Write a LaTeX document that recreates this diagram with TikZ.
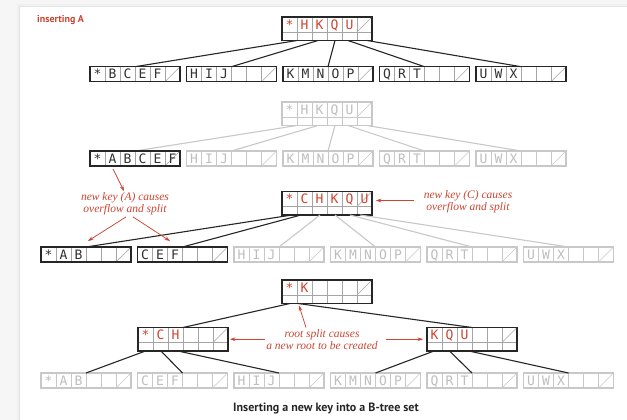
\documentclass[tikz,border=0pt]{standalone}
\usepackage{fontspec}
\setmainfont{Liberation Serif}
\newfontfamily\keyfont{DejaVu Sans Mono}
\newfontfamily\lblfont{PT Sans}
\usetikzlibrary{calc,arrows.meta}
\definecolor{bred}{RGB}{205,68,48}
\definecolor{dk}{RGB}{38,38,38}
\definecolor{dv}{RGB}{165,165,165}
\definecolor{lg}{RGB}{200,200,200}
\definecolor{lt}{RGB}{190,190,190}
\definecolor{ktxt}{RGB}{50,50,50}
\newcommand{\annfont}{\itshape\fontsize{11.5}{12}\selectfont}
% leaf: name, x, y, border, divider, text, keys
\newcommand{\bleaf}[7]{%
  \node[draw=#4, line width=1.1pt, minimum width=90pt, minimum height=15pt,
        inner sep=0pt, outer sep=0pt, anchor=north west] (#1) at (#2,#3) {};
  \foreach \j in {1,...,5}{\draw[#5, line width=0.6pt]
      ($(#1.north west)+(\j*15,0.6)$) -- ($(#1.south west)+(\j*15,-0.6)$);}
  \draw[#5, line width=0.6pt] ($(#1.south east)+(-14,-1)$) -- ($(#1.north east)+(-1,1)$);
  \foreach \k [count=\i from 0] in {#7}{%
    \node[font=\keyfont\fontsize{13}{13}\selectfont, text=#6, anchor=base, inner sep=0pt]
      at ($(#1.north west)+(\i*15+7.5,12.3)$) {\k};}
}
% internal node: name, x, y, border, divider, text, keys
\newcommand{\binner}[7]{%
  \node[draw=#4, line width=1.1pt, minimum width=90pt, minimum height=23.5pt,
        inner sep=0pt, outer sep=0pt, anchor=north west] (#1) at (#2,#3) {};
  \foreach \j in {1,...,5}{\draw[#5, line width=0.6pt]
      ($(#1.north west)+(\j*15,0.6)$) -- ($(#1.south west)+(\j*15,-0.6)$);}
  \draw[#5, line width=0.6pt] ($(#1.north west)+(0.6,15)$) -- ($(#1.north east)+(-0.6,15)$);
  \draw[#5, line width=0.6pt] ($(#1.north east)+(-14,14)$) -- ($(#1.north east)+(-1,1)$);
  \foreach \k [count=\i from 0] in {#7}{%
    \node[font=\keyfont\fontsize{13}{13}\selectfont, text=#6, anchor=base, inner sep=0pt]
      at ($(#1.north west)+(\i*15+7.5,12.3)$) {\k};}
}
\tikzset{
  darklink/.style={draw=dk, line width=1.1pt},
  faintlink/.style={draw=lg, line width=1.1pt},
  redarrow/.style={draw=bred, line width=0.75pt, -{Stealth[length=5.5pt,width=3.8pt]}},
  note/.style={font=\annfont, text=bred, align=center, inner sep=1pt},
}
\begin{document}
\begin{tikzpicture}[x=1pt,y=-1pt]
\useasboundingbox (0,0) rectangle (627,420);
% background panel
\fill[gray!7] (0,0) rectangle (627,420);
\fill[gray!12] (17,4) rectangle (627,420);
\fill[gray!20] (19,6) rectangle (627,420);
\fill[white] (20,7) rectangle (627,420);

\node[font=\lblfont\bfseries\fontsize{10}{10}\selectfont, text=bred, anchor=west, inner sep=0pt] (title) at (37,20) {inserting A};

% ---------- row 1 ----------
\binner{r1}{282}{17}{dk}{dv}{bred}{*,H,K,Q,U}
\bleaf{a1}{90}{66.7}{dk}{dv}{ktxt}{*,B,C,E,F}
\bleaf{a2}{186.5}{66.7}{dk}{dv}{ktxt}{H,I,J}
\bleaf{a3}{283}{66.7}{dk}{dv}{ktxt}{K,M,N,O,P}
\bleaf{a4}{379.5}{66.7}{dk}{dv}{ktxt}{Q,R,T}
\bleaf{a5}{476}{66.7}{dk}{dv}{ktxt}{U,W,X}
\draw[darklink] ($(r1.south west)+(15,0)$) -- (a1.north);
\draw[darklink] ($(r1.south west)+(36,0)$) -- (a2.north);
\draw[darklink] ($(r1.south west)+(53,0)$) -- (a3.north);
\draw[darklink] ($(r1.south west)+(66,0)$) -- (a4.north);
\draw[darklink] ($(r1.south west)+(85,0)$) -- (a5.north);

% ---------- row 2 ----------
\binner{r2}{282}{102}{lg}{lg}{lt}{*,H,K,Q,U}
\bleaf{b2}{186.5}{151}{lg}{lg}{lt}{H,I,J}
\bleaf{b3}{283}{151}{lg}{lg}{lt}{K,M,N,O,P}
\bleaf{b4}{379.5}{151}{lg}{lg}{lt}{Q,R,T}
\bleaf{b5}{476}{151}{lg}{lg}{lt}{U,W,X}
\draw[faintlink] ($(r2.south west)+(15,0)$) -- ($(90,151)+(45,0)$) coordinate (b1top);
\draw[faintlink] ($(r2.south west)+(36,0)$) -- (b2.north);
\draw[faintlink] ($(r2.south west)+(53,0)$) -- (b3.north);
\draw[faintlink] ($(r2.south west)+(66,0)$) -- (b4.north);
\draw[faintlink] ($(r2.south west)+(85,0)$) -- (b5.north);
\bleaf{b1}{90}{151}{dk}{dv}{ktxt}{*,A,B,C,E,F}

% ---------- row 3 ----------
\binner{r3}{282}{191.5}{dk}{dv}{bred}{*,C,H,K,Q,U}
\bleaf{c3}{234}{247}{lg}{lg}{lt}{H,I,J}
\bleaf{c4}{330.5}{247}{lg}{lg}{lt}{K,M,N,O,P}
\bleaf{c5}{427}{247}{lg}{lg}{lt}{Q,R,T}
\bleaf{c6}{523.5}{247}{lg}{lg}{lt}{U,W,X}
\draw[faintlink] ($(r3.south west)+(38,0)$) -- (c3.north);
\draw[faintlink] ($(r3.south west)+(53,0)$) -- (c4.north);
\draw[faintlink] ($(r3.south west)+(68,0)$) -- (c5.north);
\draw[faintlink] ($(r3.south west)+(78,0)$) -- (c6.north);
\bleaf{c1}{41}{247}{dk}{dv}{ktxt}{*,A,B}
\bleaf{c2}{137.5}{247}{dk}{dv}{ktxt}{C,E,F}
\draw[darklink] ($(r3.south west)+(10,0)$) -- (c1.north);
\draw[darklink] ($(r3.south west)+(19,0)$) -- (c2.north);

% annotations row 2/3
\node[note] (tA) at (125,203.5) {new key (A) causes\\overflow and split};
\draw[redarrow] ($(b1.south west)+(23,3)$) -- ($(tA.north)+(-1,0)$);
\draw[redarrow] ($(tA.south)+(1,1)$) -- ($(c1.north)+(2,-6)$);
\draw[redarrow] ($(tA.south)+(8,1)$) -- ($(c2.north west)+(32.5,-6)$);
\node[note] (tC) at (468,201.5) {new key (C) causes\\overflow and split};
\draw[redarrow] ($(r3.north east)+(42,9)$) -- ($(r3.north east)+(4,9)$);

% ---------- row 4 ----------
\binner{r4}{282}{280}{dk}{dv}{bred}{*,K}
\binner{d1}{138}{327.5}{dk}{dv}{bred}{*,C,H}
\binner{d2}{427}{327.5}{dk}{dv}{bred}{K,Q,U}
\bleaf{e1}{41}{373}{lg}{lg}{lt}{*,A,B}
\bleaf{e2}{137.5}{373}{lg}{lg}{lt}{C,E,F}
\bleaf{e3}{234}{373}{lg}{lg}{lt}{H,I,J}
\bleaf{e4}{330.5}{373}{lg}{lg}{lt}{K,M,N,O,P}
\bleaf{e5}{427}{373}{lg}{lg}{lt}{Q,R,T}
\bleaf{e6}{523.5}{373}{lg}{lg}{lt}{U,W,X}
\draw[darklink] ($(r4.south west)+(8,0)$) -- (d1.north);
\draw[darklink] ($(r4.south west)+(16,0)$) -- (d2.north);
\draw[darklink] ($(d1.south west)+(7.5,0)$) -- (e1.north);
\draw[darklink] ($(d1.south west)+(23,0)$) -- (e2.north);
\draw[darklink] ($(d1.south west)+(40,0)$) -- (e3.north);
\draw[darklink] ($(d2.south west)+(7,0)$) -- (e4.north);
\draw[darklink] ($(d2.south west)+(22.5,0)$) -- (e5.north);
\draw[darklink] ($(d2.south west)+(42,0)$) -- (e6.north);

\node[note] (tR) at (322,339.5) {root split causes\\a new root to be created};
\draw[redarrow] ($(r4.south west)+(24,24)$) -- ($(r4.south west)+(17,2)$);
\draw[redarrow] ($(d1.east)+(37,0)$) -- ($(d1.east)+(2,0)$);
\draw[redarrow] ($(d2.west)+(-41,0)$) -- ($(d2.west)+(-4,0)$);

\node[font=\lblfont\bfseries\fontsize{12}{12}\selectfont, text=black!85, inner sep=0pt] (cap) at (326,409) {Inserting a new key into a B-tree set};
\end{tikzpicture}
\end{document}
